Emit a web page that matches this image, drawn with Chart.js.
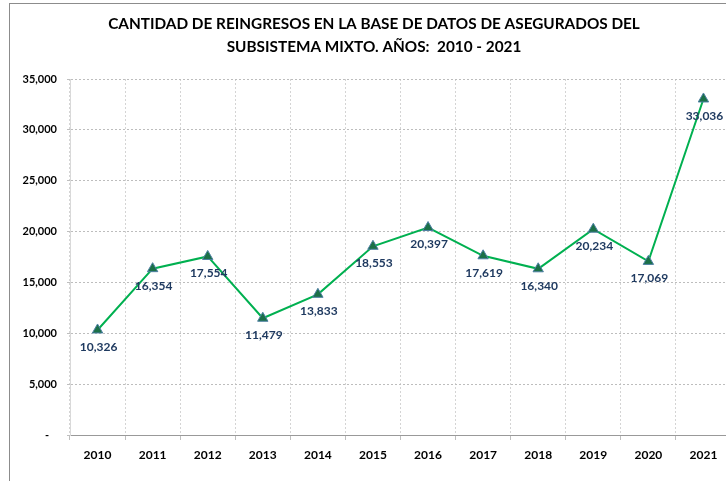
<!DOCTYPE html>
<html>
<head>
<meta charset="utf-8">
<script src="https://cdn.jsdelivr.net/npm/chart.js@4/dist/chart.umd.min.js"></script>
<style>
  html, body { margin: 0; padding: 0; background: #fff; overflow: hidden; width: 726px; height: 481px; }
  #frame { position: absolute; left: 9px; top: 3px; width: 900px; height: 700px; border: 1px solid #8c8c8c; }
  #wrap { position: absolute; left: 0; top: 0; width: 740px; height: 481px; }
</style>
</head>
<body>
<div id="frame"></div>
<div id="wrap"><canvas id="c" width="740" height="481"></canvas></div>
<script>
const titleLines = ['CANTIDAD DE REINGRESOS EN LA BASE DE DATOS DE ASEGURADOS DEL', 'SUBSISTEMA MIXTO. AÑOS:  2010 - 2021'];
const years = ['2010','2011','2012','2013','2014','2015','2016','2017','2018','2019','2020','2021'];
const reingresos = [10326, 16354, 17554, 11479, 13833, 18553, 20397, 17619, 16340, 20234, 17069, 33036];
const yTicks = [0, 5000, 10000, 15000, 20000, 25000, 30000, 35000];

const FONT = 'Lato, "Open Sans", sans-serif';

const fmt = v => v.toLocaleString('en-US');

const titlePlugin = {
  id: 'customTitle',
  afterDraw(chart) {
    const ctx = chart.ctx;
    ctx.save();
    ctx.fillStyle = '#000';
    ctx.textAlign = 'center';
    ctx.textBaseline = 'middle';
    let size = 17;
    ctx.font = 'bold ' + size + 'px ' + FONT;
    const w = ctx.measureText(titleLines[0]).width;
    size = Math.max(14, Math.min(19, size * 532 / w));
    ctx.font = 'bold ' + size + 'px ' + FONT;
    ctx.fillText(titleLines[0], 374, 24);
    ctx.fillText(titleLines[1], 374, 47);
    ctx.restore();
  }
};

const labelPlugin = {
  id: 'valueLabels',
  afterDatasetsDraw(chart) {
    const ctx = chart.ctx;
    const meta = chart.getDatasetMeta(0);
    ctx.save();
    ctx.font = 'bold 12px ' + FONT;
    ctx.fillStyle = '#1F3A60';
    ctx.textAlign = 'center';
    ctx.textBaseline = 'middle';
    meta.data.forEach((pt, i) => {
      ctx.fillText(fmt(reingresos[i]), pt.x + 1, pt.y + 17);
    });
    ctx.restore();
  }
};

new Chart(document.getElementById('c'), {
  type: 'line',
  data: {
    labels: years,
    datasets: [{
      data: reingresos,
      borderColor: '#00B050',
      borderWidth: 2,
      tension: 0,
      pointStyle: 'triangle',
      pointRadius: 6,
      pointHoverRadius: 6,
      pointBackgroundColor: '#1B7047',
      pointBorderColor: '#4D7FA3',
      pointBorderWidth: 1
    }]
  },
  options: {
    responsive: false,
    animation: false,
    events: [],
    layout: { padding: { top: 79, right: 9, left: 0, bottom: 0 } },
    plugins: { legend: { display: false }, title: { display: false }, tooltip: { enabled: false } },
    scales: {
      x: {
        offset: true,
        grid: { offset: true, color: '#d4d4d4', lineWidth: 1, tickLength: 5, tickColor: '#bfbfbf', tickBorderDash: [] },
        border: { display: true, color: '#999999', width: 1, dash: [2, 2] },
        ticks: { color: '#000', font: { family: FONT, size: 12, weight: 'bold' }, padding: 8, maxRotation: 0 },
        afterFit(scale) { scale.height = 46; }
      },
      y: {
        min: 0,
        max: 35000,
        afterBuildTicks(scale) { scale.ticks = yTicks.map(v => ({ value: v })); },
        grid: { color: '#bdbdbd', lineWidth: 1, tickLength: 3, tickColor: '#bfbfbf', tickBorderDash: [] },
        border: { display: true, color: '#d9d9d9', width: 1, dash: [2, 2] },
        ticks: {
          color: '#000',
          font: { family: FONT, size: 11, weight: 'bold' },
          padding: 10,
          callback: v => v === 0 ? '-   ' : fmt(v)
        },
        afterFit(scale) { scale.width = 70; }
      }
    }
  },
  plugins: [titlePlugin, labelPlugin]
});
</script>
</body>
</html>
